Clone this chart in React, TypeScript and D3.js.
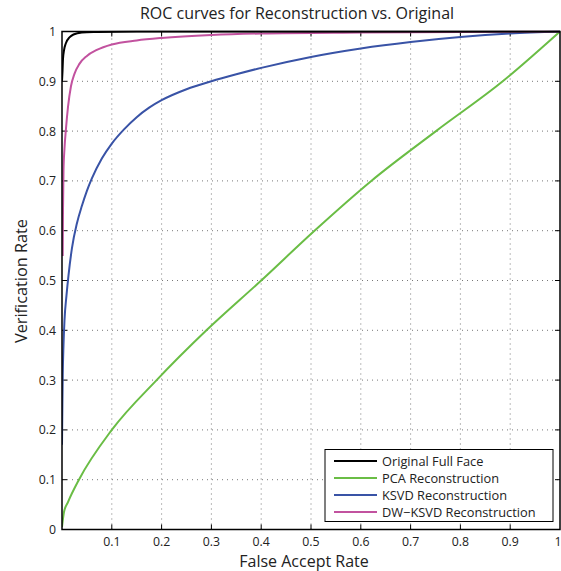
import React from "react";
import * as d3 from "d3";

const xTicks = [0.1, 0.2, 0.3, 0.4, 0.5, 0.6, 0.7, 0.8, 0.9, 1];
const yTicks = [0, 0.1, 0.2, 0.3, 0.4, 0.5, 0.6, 0.7, 0.8, 0.9, 1];
const gridTicks = [0.1, 0.2, 0.3, 0.4, 0.5, 0.6, 0.7, 0.8, 0.9];

const seriesNames = ["Original Full Face", "PCA Reconstruction", "KSVD Reconstruction", "DW\u2212KSVD Reconstruction"];
const seriesColors = ["#000000", "#6abd45", "#3953a6", "#c2529f"];

const originalFPR = [0, 0.001, 0.002, 0.004, 0.008, 0.015, 0.023, 0.04, 0.07, 0.15, 1];
const originalTPR = [0.9, 0.92, 0.945, 0.962, 0.977, 0.988, 0.994, 0.998, 0.999, 1, 1];

const pcaFPR = [0, 0.004, 0.012, 0.034, 0.1, 0.19, 0.29, 0.4, 0.507, 0.621, 0.751, 0.885, 1];
const pcaTPR = [0.005, 0.035, 0.055, 0.1, 0.2, 0.3, 0.4, 0.5, 0.6, 0.7, 0.8, 0.9, 1];

const ksvdFPR = [0, 0.0008, 0.0015, 0.003, 0.005, 0.009, 0.013, 0.02, 0.03, 0.04, 0.05, 0.06, 0.08, 0.1, 0.125, 0.15, 0.175, 0.2, 0.25, 0.3, 0.35, 0.4, 0.5, 0.6, 0.7, 0.8, 0.9, 1];
const ksvdTPR = [0.17, 0.25, 0.31, 0.37, 0.42, 0.47, 0.51, 0.565, 0.615, 0.65, 0.68, 0.705, 0.745, 0.775, 0.804, 0.828, 0.847, 0.862, 0.884, 0.9, 0.914, 0.927, 0.949, 0.966, 0.979, 0.989, 0.996, 1];

const dwFPR = [0.0014, 0.002, 0.003, 0.005, 0.008, 0.012, 0.018, 0.025, 0.035, 0.05, 0.07, 0.1, 0.15, 0.2, 0.3, 0.4, 0.6, 1];
const dwTPR = [0.549, 0.64, 0.72, 0.765, 0.805, 0.848, 0.89, 0.915, 0.935, 0.951, 0.963, 0.974, 0.982, 0.987, 0.993, 0.996, 0.998, 1];

const FONT = "'Open Sans', sans-serif";

export default function App() {
  const W = 561, H = 571;
  const left = 62, right = 560, top = 31.5, bottom = 529.5;
  const x = d3.scaleLinear().domain([0, 1]).range([left, right]);
  const y = d3.scaleLinear().domain([0, 1]).range([bottom, top]);
  const line = d3.line<[number, number]>().x(d => x(d[0])).y(d => y(d[1])).curve(d3.curveMonotoneX);

  const series = [
    [originalFPR, originalTPR],
    [pcaFPR, pcaTPR],
    [ksvdFPR, ksvdTPR],
    [dwFPR, dwTPR],
  ].map(([fx, fy]) => fx.map((v, i) => [v, fy[i]] as [number, number]));

  const drawOrder = [1, 2, 3, 0];
  const tickLen = 5;
  const legX = 325, legY = 449.5, legW = 228, legH = 72;

  return (
    <svg width={W} height={H} style={{ position: "absolute", left: 0, top: 0, background: "#fff" }} fontFamily={FONT}>
      <rect x={0} y={0} width={W} height={H} fill="#fff" />
      <defs>
        <clipPath id="plotclip">
          <rect x={left} y={top - 1} width={right - left + 1} height={bottom - top + 1} />
        </clipPath>
      </defs>
      {/* grid */}
      <g stroke="#555" strokeWidth={0.8} strokeDasharray="1,4">
        {gridTicks.map(t => (
          <line key={"gx" + t} x1={x(t)} x2={x(t)} y1={bottom} y2={top} />
        ))}
        {gridTicks.map(t => (
          <line key={"gy" + t} x1={left} x2={right} y1={y(t)} y2={y(t)} />
        ))}
      </g>
      {/* ticks */}
      <g stroke="#000" strokeWidth={1}>
        {gridTicks.map(t => (
          <g key={"t" + t}>
            <line x1={x(t)} x2={x(t)} y1={bottom} y2={bottom - tickLen} />
            <line x1={x(t)} x2={x(t)} y1={top} y2={top + tickLen} />
            <line x1={left} x2={left + tickLen} y1={y(t)} y2={y(t)} />
            <line x1={right} x2={right - tickLen} y1={y(t)} y2={y(t)} />
          </g>
        ))}
      </g>
      {/* curves */}
      <g clipPath="url(#plotclip)" fill="none" strokeWidth={2}>
        {drawOrder.map(i => (
          <path key={i} d={line(series[i]) || ""} stroke={seriesColors[i]} />
        ))}
      </g>
      {/* box */}
      <rect x={left} y={top} width={right - left} height={bottom - top} fill="none" stroke="#000" strokeWidth={1.5} />
      {/* tick labels */}
      <g fontSize={12.3} fill="#222">
        {xTicks.map(t => (
          <text key={"xl" + t} x={t === 1 ? x(t) - 2 : x(t)} y={545.5} textAnchor="middle">{d3.format("~g")(t)}</text>
        ))}
        {yTicks.map(t => (
          <text key={"yl" + t} x={56} y={y(t) + 4.5} textAnchor="end">{d3.format("~g")(t)}</text>
        ))}
      </g>
      {/* titles */}
      <text x={297} y={19} textAnchor="middle" fontSize={16} fill="#222">ROC curves for Reconstruction vs. Original</text>
      <text x={304} y={566.5} textAnchor="middle" fontSize={16} fill="#222">False Accept Rate</text>
      <text transform={`translate(27,281) rotate(-90)`} textAnchor="middle" fontSize={16.3} fill="#222">Verification Rate</text>
      {/* legend */}
      <rect x={legX} y={legY} width={legW} height={legH} fill="#fff" stroke="#000" strokeWidth={1} />
      {seriesNames.map((name, i) => {
        const ry = 461 + i * 17;
        return (
          <g key={name}>
            <line x1={334} x2={377} y1={ry} y2={ry} stroke={seriesColors[i]} strokeWidth={2} />
            <text x={382} y={ry + 4.8} fontSize={12.8} fill="#222">{name}</text>
          </g>
        );
      })}
    </svg>
  );
}
